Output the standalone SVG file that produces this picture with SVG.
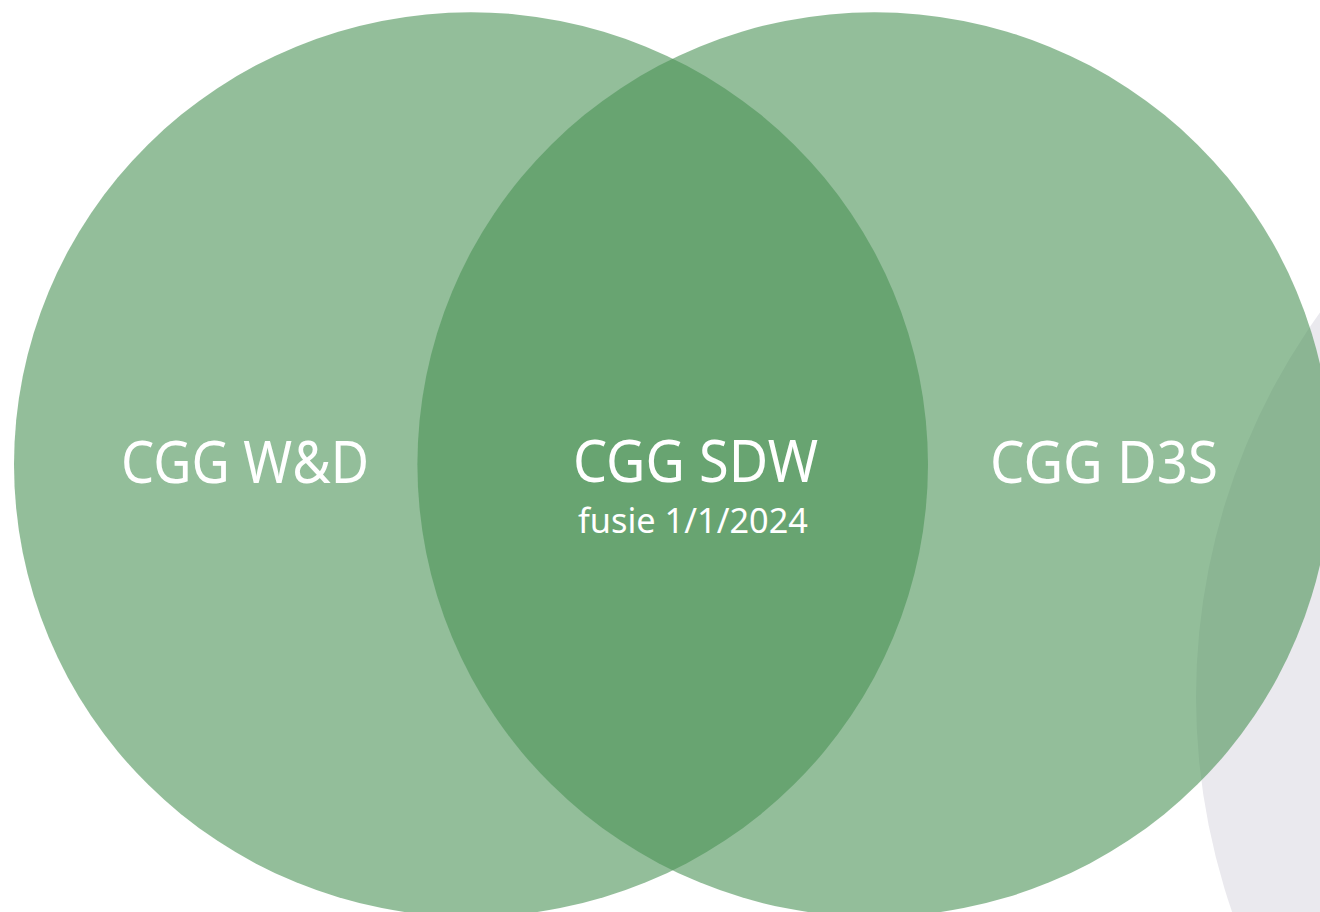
<svg xmlns="http://www.w3.org/2000/svg" width="1320" height="912" viewBox="0 0 1320 912">
  <style>
    .set { fill: #4b9357; fill-opacity: 0.6; }
    .bg { fill: #eae9ee; }
    .title { font-family: "Noto Sans", "Open Sans", sans-serif; font-size: 59px; fill: #ffffff; text-anchor: middle; }
    .sub { font-family: "Noto Sans", "Open Sans", sans-serif; font-size: 35px; fill: #ffffff; text-anchor: middle; }
  </style>
  <rect width="1320" height="912" fill="#ffffff"/>
  <g id="background-circle">
    <circle class="bg" cx="1854" cy="697" r="658"/>
  </g>
  <g id="node-wd">
    <ellipse class="set" cx="471" cy="464.5" rx="457" ry="452.3"/>
    <text class="title" x="245" y="483" textLength="248" lengthAdjust="spacingAndGlyphs">CGG W&amp;D</text>
  </g>
  <g id="node-d3s">
    <ellipse class="set" cx="874.4" cy="464.5" rx="457" ry="452.3"/>
    <text class="title" x="1104" y="483" textLength="228" lengthAdjust="spacingAndGlyphs">CGG D3S</text>
  </g>
  <g id="node-sdw">
    <text class="title" x="695.5" y="482" textLength="245" lengthAdjust="spacingAndGlyphs">CGG SDW</text>
    <text class="sub" x="693" y="533" textLength="230" lengthAdjust="spacingAndGlyphs">fusie 1/1/2024</text>
  </g>
  <g id="connectors"/>
</svg>
